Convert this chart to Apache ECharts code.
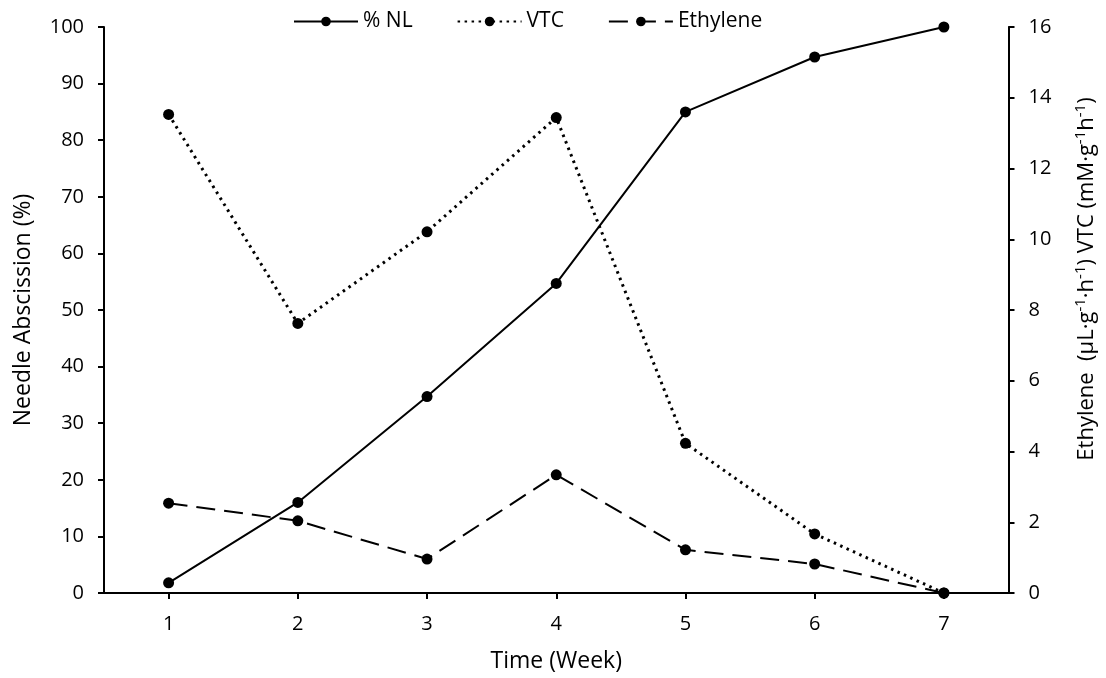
<!DOCTYPE html>
<html>
<head>
<meta charset="utf-8">
<script src="https://cdn.jsdelivr.net/npm/echarts@6/dist/echarts.min.js"></script>
<style>
html,body{margin:0;padding:0;background:#fff;}
#c{width:1106px;height:678px;}
</style>
</head>
<body>
<div id="c"></div>
<script>
const weeks = ['1','2','3','4','5','6','7'];
const nlValues = [1.8, 16, 34.7, 54.7, 85.0, 94.7, 100];
const vtcValues = [13.53, 7.62, 10.21, 13.44, 4.23, 1.67, 0];
const ethyleneValues = [2.54, 2.04, 0.96, 3.34, 1.22, 0.82, 0];
const leftTicks = {min: 0, max: 100, interval: 10};
const rightTicks = {min: 0, max: 16, interval: 2};

const FONT = 'Open Sans';
const chart = echarts.init(document.getElementById('c'));
const axisCommon = {
  axisLine: {show: true, lineStyle: {color: '#000', width: 2}},
  axisTick: {show: true, length: 6, lineStyle: {color: '#000', width: 2}},
  axisLabel: {color: '#000', fontSize: 20, fontFamily: FONT},
  splitLine: {show: false},
  nameTextStyle: {color: '#000', fontSize: 23, fontFamily: FONT}
};
chart.setOption({
  animation: false,
  backgroundColor: '#fff',
  textStyle: {fontFamily: FONT},
  grid: {left: 104, right: 94, top: 27, bottom: 85, containLabel: false},
  legend: {
    top: 6, left: 288, itemGap: 44, itemWidth: 64, itemHeight: 12,
    textStyle: {color: '#000', fontSize: 21, fontFamily: FONT},
    data: ['% NL', 'VTC', 'Ethylene']
  },
  xAxis: Object.assign({}, axisCommon, {
    type: 'category', data: weeks, boundaryGap: true,
    axisTick: {show: true, alignWithLabel: true, length: 6, lineStyle: {color: '#000', width: 2}},
    axisLabel: {color: '#000', fontSize: 20, fontFamily: FONT, margin: 21},
    name: 'Time (Week)', nameLocation: 'middle', nameGap: 57
  }),
  yAxis: [
    Object.assign({}, axisCommon, {
      type: 'value', position: 'left', min: leftTicks.min, max: leftTicks.max, interval: leftTicks.interval,
      axisLabel: {color: '#000', fontSize: 20, fontFamily: FONT, margin: 20},
      name: 'Needle Abscission (%)', nameLocation: 'middle', nameGap: 69, nameRotate: 90
    }),
    Object.assign({}, axisCommon, {
      type: 'value', position: 'right', min: rightTicks.min, max: rightTicks.max, interval: rightTicks.interval,
      axisLabel: {color: '#000', fontSize: 20, fontFamily: FONT, margin: 20},
      name: 'Ethylene  (µL·g{sup|-1}·h{sup|-1}) VTC (mM·g{sup|-1}h{sup|-1})',
      nameLocation: 'middle', nameGap: 65, nameRotate: 90,
      nameTextStyle: {
        color: '#000', fontSize: 22, fontFamily: FONT, padding: [0, 0, 0, 62],
        rich: {sup: {color: '#000', fontSize: 15, fontFamily: FONT, padding: [0, 0, 12, 0]}}
      }
    })
  ],
  series: [
    {
      name: '% NL', type: 'line', yAxisIndex: 0, data: nlValues,
      symbol: 'circle', symbolSize: 11,
      itemStyle: {color: '#000'},
      lineStyle: {color: '#000', width: 2, type: 'solid'}
    },
    {
      name: 'VTC', type: 'line', yAxisIndex: 1, data: vtcValues,
      symbol: 'circle', symbolSize: 11,
      itemStyle: {color: '#000'},
      lineStyle: {color: '#000', width: 3, type: [2.5, 4.5], cap: 'butt'}
    },
    {
      name: 'Ethylene', type: 'line', yAxisIndex: 1, data: ethyleneValues,
      symbol: 'circle', symbolSize: 11,
      itemStyle: {color: '#000'},
      lineStyle: {color: '#000', width: 2, type: [19, 9]}
    }
  ]
});
</script>
</body>
</html>
